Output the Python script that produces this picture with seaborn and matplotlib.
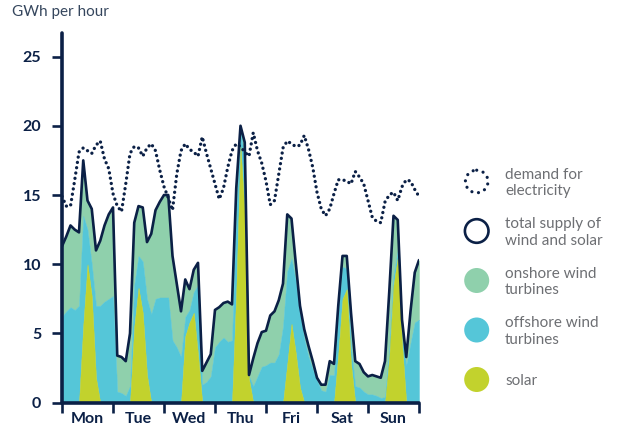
import numpy as np
import pandas as pd
import matplotlib
matplotlib.use("Agg")
import matplotlib.pyplot as plt
import seaborn as sns
from matplotlib.patches import Circle

# ---------------- data (GWh per hour, every 2 hours over one week) ----------------
hours = list(range(0, 169, 2))

solar = [0, 0, 0, 0, 0, 5.6, 10.0, 7.7, 1.8, 0, 0, 0, 0,
         0, 0, 0, 0, 5.5, 8.3, 6.5, 2.0, 0, 0, 0, 0,
         0, 0, 0, 0, 4.8, 5.8, 6.5, 3.5, 0, 0, 0, 0,
         0, 0, 0, 0, 8.0, 18.5, 13.5, 1.7, 0, 0, 0, 0,
         0, 0, 0, 0, 2.8, 5.7, 3.6, 1.1, 0, 0, 0, 0,
         0, 0, 0, 0, 3.5, 7.5, 8.2, 2.8, 0, 0, 0, 0,
         0, 0, 0, 0, 3.3, 8.5, 10.5, 4.3, 0, 0, 0, 0]

offshore = [6.2, 6.6, 6.9, 6.7, 7.0, 7.9, 2.5, 2.3, 5.2, 7.0, 7.3, 7.5, 7.7,
            0.8, 0.7, 0.5, 1.2, 3.0, 2.3, 3.7, 5.5, 6.4, 7.5, 7.6, 7.6,
            7.6, 4.5, 4.0, 3.3, 1.4, 0.9, 1.5, 5.0, 1.3, 1.5, 1.9, 4.0,
            4.4, 4.7, 4.4, 4.5, 6.0, 1.1, 4.0, 0.2, 1.2, 1.9, 2.6, 2.7,
            2.9, 2.9, 3.5, 5.5, 6.7, 4.7, 5.2, 5.4, 4.6, 3.3, 2.4, 1.6,
            0.9, 0.8, 2.0, 2.0, 3.0, 2.3, 1.5, 1.2, 1.2, 1.1, 0.8, 0.6,
            0.6, 0.5, 0.35, 0.4, 0.5, 0.7, 0.5, 0.5, 2.7, 4.3, 5.8, 6.0]

onshore = [5.1, 5.4, 5.9, 5.8, 5.3, 4.0, 2.1, 4.0, 4.0, 4.7, 5.5, 6.1, 6.4,
           2.6, 2.6, 2.5, 3.8, 4.5, 3.6, 3.9, 4.1, 5.8, 6.4, 6.9, 7.4,
           7.4, 6.1, 4.6, 3.3, 2.7, 1.5, 1.6, 1.6, 1.0, 1.4, 1.6, 2.7,
           2.5, 2.5, 2.9, 2.6, 1.5, 0.4, 1.3, 0.1, 2.0, 2.4, 2.5, 2.5,
           3.4, 3.7, 3.9, 3.1, 4.1, 2.9, 1.3, 0.5, 0.7, 0.8, 0.6, 0.2,
           0.4, 0.5, 1.0, 0.8, 0.5, 0.8, 0.9, 2.5, 1.8, 1.7, 1.4, 1.3,
           1.4, 1.4, 1.45, 2.6, 4.2, 4.3, 2.2, 1.2, 0.6, 2.3, 3.6, 4.3]

demand = [14.9, 14.2, 14.2, 16.1, 18.1, 18.4, 18.2, 18.0, 18.6, 18.9, 17.6, 16.9, 15.1,
          14.2, 13.8, 15.8, 18.0, 18.5, 18.4, 17.8, 18.4, 18.7, 18.2, 16.8, 15.6,
          14.8, 13.9, 16.5, 18.2, 18.7, 18.3, 18.1, 17.8, 19.2, 18.0, 16.9, 15.8,
          14.7, 15.5, 17.0, 18.2, 18.7, 18.5, 18.1, 17.8, 19.5, 18.2, 17.3, 16.0,
          14.3, 14.6, 16.5, 18.4, 18.9, 18.7, 18.5, 18.6, 19.3, 18.3, 17.0, 15.2,
          14.0, 13.5, 14.0, 15.1, 16.1, 16.1, 16.0, 15.8, 16.7, 16.3, 15.8, 14.6,
          13.4, 13.1, 13.0, 14.5, 15.0, 15.2, 14.6, 15.6, 16.1, 16.0, 15.4, 14.9]

day_labels = ["Mon", "Tue", "Wed", "Thu", "Fri", "Sat", "Sun"]
y_ticks = [0, 5, 10, 15, 20, 25]
legend_labels = ["demand for\nelectricity", "total supply of\nwind and solar",
                 "onshore wind\nturbines", "offshore wind\nturbines", "solar"]
y_title = "GWh per hour"

# ---------------- style ----------------
NAVY = "#0b2046"
GREEN = "#8fd0ac"
CYAN = "#55c6d8"
SOLAR = "#c2d22d"
GRAY = "#6d6f73"
TITLE = "#35465d"

sns.set_theme(style="ticks")
plt.rcParams["font.family"] = ["Lato", "DejaVu Sans"]

df = pd.DataFrame({"hour": hours, "solar": solar, "offshore": offshore,
                   "onshore": onshore, "demand": demand})
df["off_top"] = df["solar"] + df["offshore"]
df["total"] = df["off_top"] + df["onshore"]

fig = plt.figure(figsize=(6.21, 4.34), dpi=100)
ax = fig.add_axes([62 / 621, 1 - 402.7 / 434, (419 - 62) / 621, (402.7 - 33) / 434])

ax.fill_between(df["hour"], df["off_top"], df["total"], color=GREEN, lw=0.3, edgecolor=GREEN)
ax.fill_between(df["hour"], df["solar"], df["off_top"], color=CYAN, lw=0.3, edgecolor=CYAN)
ax.fill_between(df["hour"], 0, df["solar"], color=SOLAR, lw=0.3, edgecolor=SOLAR)

sns.lineplot(data=df, x="hour", y="total", ax=ax, color=NAVY, lw=1.9,
             solid_joinstyle="round", zorder=5)
sns.lineplot(data=df, x="hour", y="demand", ax=ax, color=NAVY, lw=2.4,
             linestyle=(0, (0.01, 1.6)), dash_capstyle="round", zorder=6)

ax.set_xlim(0, 168)
ax.set_ylim(0, 26.7)
ax.set_xlabel("")
ax.set_ylabel("")

ax.set_xticks(range(0, 169, 24))
ax.set_xticklabels([])
ax.set_xticks(range(12, 168, 24), minor=True)
ax.set_xticklabels(day_labels, minor=True, fontweight="bold", fontsize=11.5, color=NAVY)
ax.set_yticks(y_ticks)
ax.set_yticklabels([str(v) for v in y_ticks], fontweight="bold", fontsize=11.5, color=NAVY)

ax.tick_params(axis="x", which="major", length=7, width=1.9, color=NAVY, direction="out")
ax.tick_params(axis="x", which="minor", length=0, pad=7)
ax.tick_params(axis="y", which="major", length=7, width=1.9, color=NAVY, direction="out", pad=8)

for side in ["top", "right"]:
    ax.spines[side].set_visible(False)
for side in ["left", "bottom"]:
    ax.spines[side].set_color(NAVY)
    ax.spines[side].set_linewidth(2.6)
    ax.spines[side].set_capstyle("round")

fig.text(12 / 621, 1 - 5 / 434, y_title, ha="left", va="top", fontsize=11, color=TITLE)

# ---------------- legend (overlay in pixel units) ----------------
lax = fig.add_axes([0, 0, 1, 1], zorder=10)
lax.set_xlim(0, 621)
lax.set_ylim(434, 0)
lax.axis("off")

mx, tx, y0, step = 476.7, 505, 181.5, 49.5
ys = [y0 + k * step for k in range(5)]
lax.add_patch(Circle((mx, ys[0]), 11.3, facecolor="none", edgecolor=NAVY, lw=2.3,
                     linestyle=(0, (0.01, 2.1)), capstyle="round"))
lax.add_patch(Circle((mx, ys[1]), 11.8, facecolor="none", edgecolor=NAVY, lw=1.9))
lax.add_patch(Circle((mx, ys[2]), 12.5, facecolor=GREEN, edgecolor="none"))
lax.add_patch(Circle((mx, ys[3]), 12.5, facecolor=CYAN, edgecolor="none"))
lax.add_patch(Circle((mx, ys[4]), 12.5, facecolor=SOLAR, edgecolor="none"))
for k, lab in enumerate(legend_labels):
    lax.text(tx, ys[k] + 1.5, lab, ha="left", va="center", fontsize=11,
             color=GRAY, linespacing=1.22)

fig.savefig("out.png", dpi=100, facecolor="white")
